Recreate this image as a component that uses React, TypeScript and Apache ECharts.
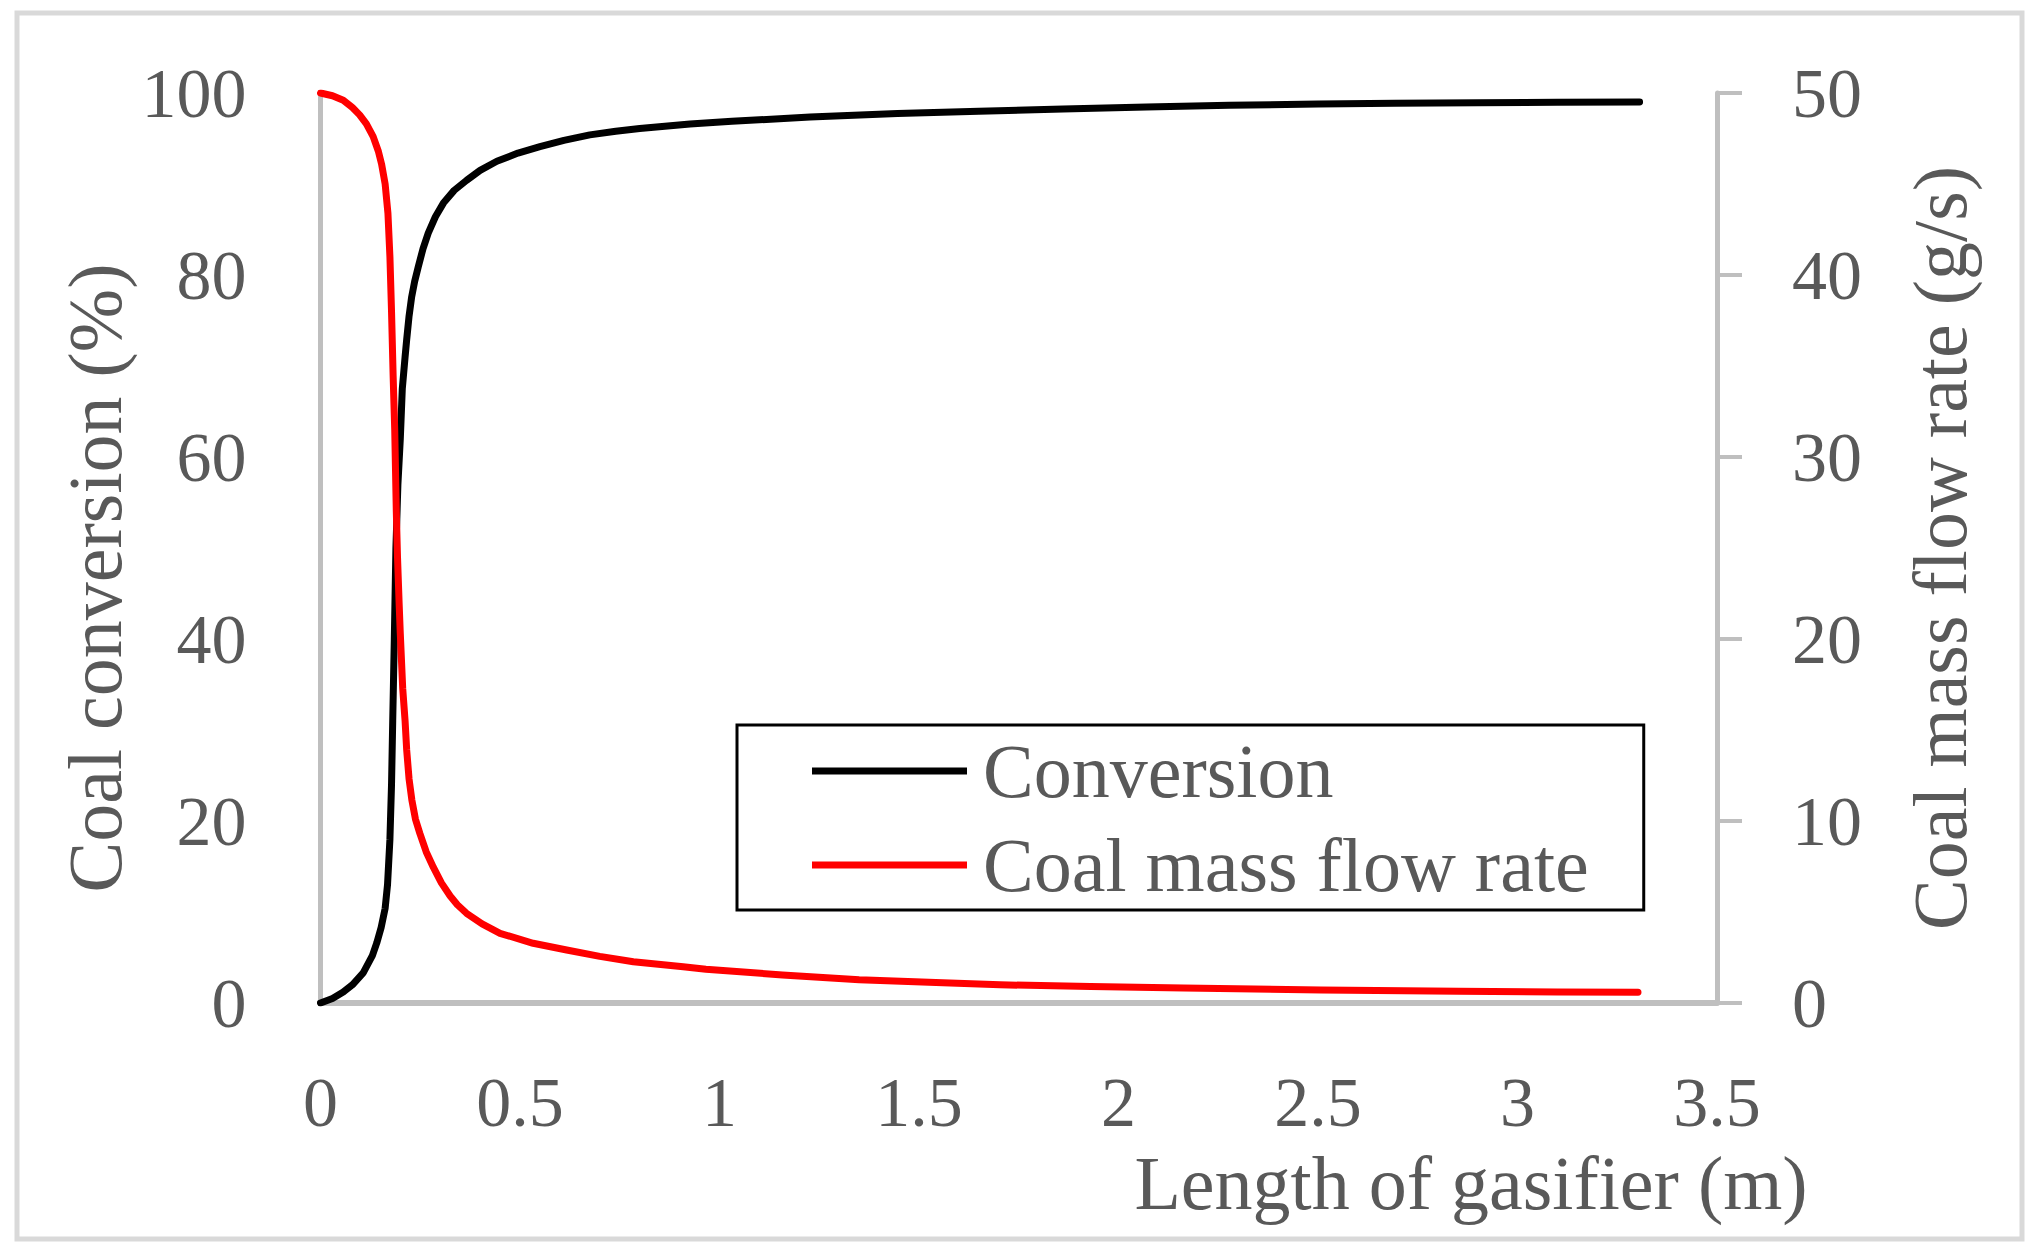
import React, { useEffect, useRef } from "react";
import * as echarts from "echarts";

// Length of gasifier (m) and coal conversion (%)
const convX = [0, 0.03, 0.057, 0.08, 0.107, 0.13, 0.141, 0.152, 0.162, 0.168, 0.174, 0.178, 0.181, 0.185, 0.189, 0.194, 0.2, 0.205, 0.212, 0.216, 0.222, 0.2285, 0.236, 0.245, 0.257, 0.27, 0.288, 0.308, 0.335, 0.366, 0.4, 0.442, 0.495, 0.55, 0.61, 0.675, 0.74, 0.8, 0.926, 1.031, 1.227, 1.446, 1.65, 1.861, 2.07, 2.277, 2.5, 2.693, 2.9, 3.1, 3.306];
const convY = [0, 0.5, 1.2, 2.0, 3.3, 5.2, 6.6, 8.3, 10.4, 13, 18, 24, 31, 40, 50, 57, 62, 67.5, 71, 72.9, 75.5, 77.6, 79.3, 80.9, 82.9, 84.6, 86.4, 87.9, 89.3, 90.4, 91.5, 92.5, 93.4, 94.1, 94.8, 95.4, 95.8, 96.1, 96.6, 96.9, 97.35, 97.75, 98.0, 98.25, 98.45, 98.65, 98.78, 98.87, 98.93, 98.97, 99.0];

// Length of gasifier (m) and coal mass flow rate (g/s)
const flowX = [0, 0.03, 0.057, 0.08, 0.098, 0.115, 0.132, 0.145, 0.153, 0.162, 0.169, 0.174, 0.178, 0.182, 0.186, 0.19, 0.193, 0.197, 0.2, 0.206, 0.212, 0.216, 0.222, 0.229, 0.238, 0.249, 0.265, 0.283, 0.303, 0.325, 0.343, 0.366, 0.405, 0.45, 0.533, 0.617, 0.7, 0.784, 0.909, 0.966, 1.158, 1.35, 1.542, 1.703, 1.93, 2.163, 2.508, 2.853, 3.1, 3.302];
const flowY = [50, 49.85, 49.6, 49.2, 48.8, 48.3, 47.6, 46.8, 46.1, 45.0, 43.4, 41, 38, 34.5, 31.5, 27, 24.5, 22, 20.3, 17.3, 15.5, 13.9, 12.3, 11.15, 10.1, 9.32, 8.3, 7.45, 6.6, 5.88, 5.4, 4.93, 4.35, 3.83, 3.28, 2.91, 2.56, 2.27, 1.99, 1.86, 1.54, 1.28, 1.12, 1.0, 0.9, 0.82, 0.71, 0.64, 0.61, 0.59];

const seriesNames = ["Conversion", "Coal mass flow rate"];
const xTitle = "Length of gasifier (m)";
const yLeftTitle = "Coal conversion (%)";
const yRightTitle = "Coal mass flow rate (g/s)";

const FONT = "'Liberation Serif', 'Times New Roman', serif";
const GREY_TEXT = "#595959";
const AXIS_GREY = "#bfbfbf";

export default function App() {
  const ref = useRef<HTMLDivElement>(null);

  useEffect(() => {
    if (!ref.current) return;
    const chart = echarts.init(ref.current, undefined, { renderer: "svg" });
    const tickLabel = {
      color: GREY_TEXT,
      fontFamily: FONT,
      fontSize: 70,
    };
    chart.setOption({
      animation: false,
      backgroundColor: "#ffffff",
      grid: {
        left: 320.5,
        right: 315,
        top: 93,
        bottom: 247,
        containLabel: false,
        outerBoundsMode: "none",
      },
      xAxis: {
        type: "value",
        min: 0,
        max: 3.5,
        interval: 0.5,
        axisLine: { show: true, onZero: false, lineStyle: { color: AXIS_GREY, width: 6 } },
        axisTick: { show: false },
        splitLine: { show: false },
        axisLabel: { ...tickLabel, margin: 64, showMinLabel: true, showMaxLabel: true },
      },
      yAxis: [
        {
          type: "value",
          position: "left",
          min: 0,
          max: 100,
          interval: 20,
          axisLine: { show: true, lineStyle: { color: AXIS_GREY, width: 5 } },
          axisTick: { show: false },
          splitLine: { show: false },
          axisLabel: { ...tickLabel, margin: 74 },
        },
        {
          type: "value",
          position: "right",
          min: 0,
          max: 50,
          interval: 10,
          axisLine: { show: true, lineStyle: { color: AXIS_GREY, width: 5 } },
          axisTick: { show: true, inside: false, length: 25, lineStyle: { color: AXIS_GREY, width: 4 } },
          splitLine: { show: false },
          axisLabel: { ...tickLabel, margin: 75 },
        },
      ],
      legend: {
        show: true,
        orient: "vertical",
        left: 737,
        top: 725,
        padding: [4, 55, 3, 75],
        itemGap: 10,
        itemWidth: 155,
        itemHeight: 7,
        icon: "rect",
        borderColor: "#000000",
        borderWidth: 3,
        backgroundColor: "#ffffff",
        data: seriesNames,
        textStyle: {
          color: GREY_TEXT,
          fontFamily: FONT,
          fontSize: 76,
          lineHeight: 84,
          padding: [0, 0, 0, 11],
        },
      },
      series: [
        {
          name: seriesNames[0],
          type: "line",
          yAxisIndex: 0,
          symbol: "none",
          smooth: false,
          data: convX.map((x, i) => [x, convY[i]]),
          lineStyle: { color: "#000000", width: 7, cap: "round", join: "round" },
          itemStyle: { color: "#000000" },
        },
        {
          name: seriesNames[1],
          type: "line",
          yAxisIndex: 1,
          symbol: "none",
          smooth: false,
          data: flowX.map((x, i) => [x, flowY[i]]),
          lineStyle: { color: "#ff0000", width: 7, cap: "round", join: "round" },
          itemStyle: { color: "#ff0000" },
        },
      ],
      graphic: [
        {
          type: "rect",
          shape: { x: 17, y: 13, width: 2005, height: 1226 },
          style: { fill: "none", stroke: "#d9d9d9", lineWidth: 5 },
          silent: true,
          z: -1,
        },
        {
          type: "text",
          x: 95,
          y: 578,
          rotation: Math.PI / 2,
          style: {
            text: yLeftTitle,
            fill: GREY_TEXT,
            fontFamily: FONT,
            fontSize: 76,
            align: "center",
            verticalAlign: "middle",
          },
        },
        {
          type: "text",
          x: 1940,
          y: 548,
          rotation: Math.PI / 2,
          style: {
            text: yRightTitle,
            fill: GREY_TEXT,
            fontFamily: FONT,
            fontSize: 76,
            align: "center",
            verticalAlign: "middle",
          },
        },
        {
          type: "text",
          x: 1471,
          y: 1183,
          style: {
            text: xTitle,
            fill: GREY_TEXT,
            fontFamily: FONT,
            fontSize: 76,
            align: "center",
            verticalAlign: "middle",
          },
        },
      ],
    });
    return () => chart.dispose();
  }, []);

  return (
    <div
      ref={ref}
      style={{ position: "absolute", left: 0, top: 0, width: 2032, height: 1250, background: "#fff" }}
    />
  );
}
